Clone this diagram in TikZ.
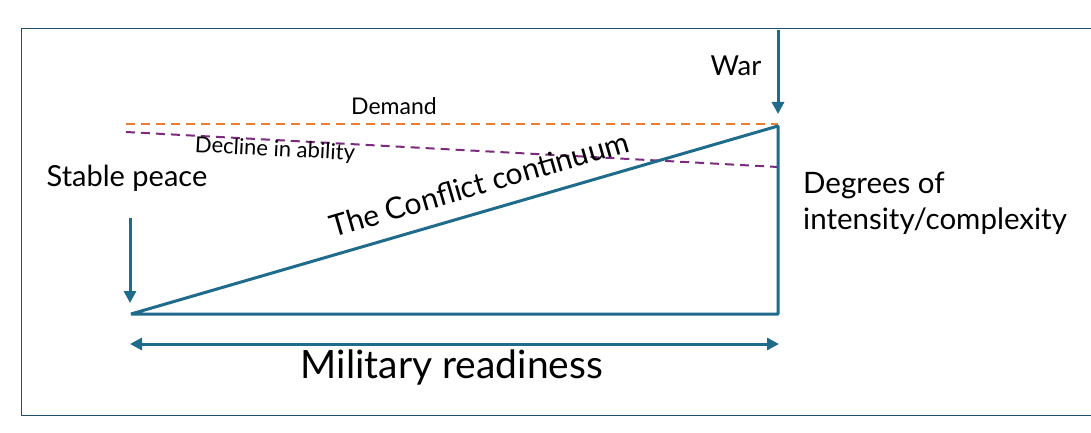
\documentclass[tikz,border=0pt]{standalone}
\usepackage{fontspec}
\setmainfont{Lato}
\usetikzlibrary{arrows.meta}
\definecolor{lineblue}{HTML}{1F6B8C}
\definecolor{frameblue}{HTML}{1F4E6E}
\definecolor{dorange}{HTML}{ED7D31}
\definecolor{dpurple}{HTML}{7B2A7E}
\tikzset{
  x=1pt,y=-1pt,
  mainline/.style={draw=lineblue,line width=3pt},
  arr/.style={draw=lineblue,line width=3pt,-{Triangle[length=12pt,width=12pt]}},
  dblarr/.style={draw=lineblue,line width=3pt,{Triangle[length=12pt,width=12pt]}-{Triangle[length=12pt,width=12pt]}},
  lbl/.style={inner sep=0pt,text=black},
  dashorange/.style={draw=dorange,line width=2pt,dash pattern=on 9pt off 6pt},
  dashpurple/.style={draw=dpurple,line width=2pt,dash pattern=on 9pt off 6pt},
}
\begin{document}
\begin{tikzpicture}
\useasboundingbox (0,0) rectangle (1091,433);
\fill[white] (0,0) rectangle (1091,433);
% frame
\draw[frameblue,line width=1pt] (1091,29) -- (21,29) -- (21,415) -- (1091,415);
% coordinates
\coordinate (bl) at (131,314);
\coordinate (br) at (778,314);
\coordinate (tr) at (778,126);
\coordinate (warS) at (778,30);
\coordinate (warE) at (778,114);
\coordinate (spS) at (130,218);
\coordinate (spE) at (130,303);
\coordinate (mrL) at (130,344);
\coordinate (mrR) at (779,344);
\coordinate (dmL) at (126,124);
\coordinate (dmR) at (778,124);
\coordinate (dcL) at (126,132);
\coordinate (dcR) at (778,167);
% dashed lines
\draw[dashorange] (dmL) -- (dmR);
\draw[dashpurple] (dcL) -- (dcR);
% triangle
\draw[mainline,line join=bevel] (bl) -- (tr) -- (br) -- cycle;
% arrows
\draw[arr] (warS) -- (warE);
\draw[arr] (spS) -- (spE);
\draw[dblarr] (mrL) -- (mrR);
% labels
\node[lbl,font=\fontsize{27.5}{32}\selectfont] (war) at (736,66) {War};
\node[lbl,font=\fontsize{23}{27}\selectfont] (demand) at (394,106) {Demand};
\node[lbl,font=\fontsize{22}{26}\selectfont,rotate=-3] (decline) at (275,150) {Decline in ability};
\node[lbl,font=\fontsize{29}{34}\selectfont] (stable) at (127,178) {Stable peace};
\node[lbl,font=\fontsize{30}{35}\selectfont,rotate=16.2] (conflict) at (479,184) {The Conflict continuum};
\node[lbl,font=\fontsize{29.5}{34}\selectfont,anchor=west] (deg1) at (803,185) {Degrees of};
\node[lbl,font=\fontsize{29.5}{34}\selectfont,anchor=west] (deg2) at (803,221) {intensity/complexity};
\node[lbl,font=\fontsize{39}{45}\selectfont] (mil) at (452,367) {Military readiness};
\end{tikzpicture}
\end{document}
